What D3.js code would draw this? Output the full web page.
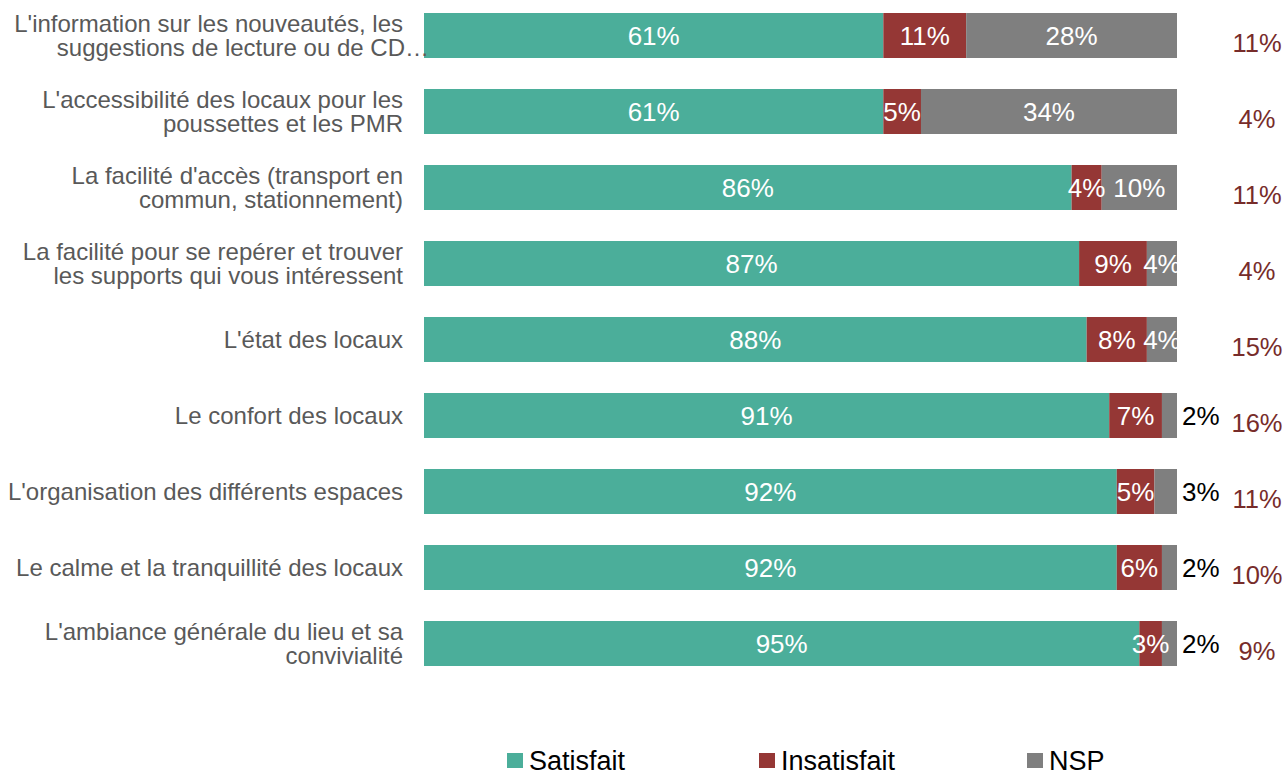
<!DOCTYPE html>
<html>
<head>
<meta charset="utf-8">
<script src="https://cdn.jsdelivr.net/npm/d3@7"></script>
<style>
  body { margin: 0; background: #fff; }
  svg { display: block; font-family: "Liberation Sans", Arial, sans-serif; }
</style>
</head>
<body>
<svg id="chart"></svg>
<script>
// labels, one entry per bar (top to bottom), split into lines
const categories = [
    ["L'information sur les nouveautés, les", "suggestions de lecture ou de CD…"],
    ["L'accessibilité des locaux pour les", "poussettes et les PMR"],
    ["La facilité d'accès (transport en", "commun, stationnement)"],
    ["La facilité pour se repérer et trouver", "les supports qui vous intéressent"],
    ["L'état des locaux"],
    ["Le confort des locaux"],
    ["L'organisation des différents espaces"],
    ["Le calme et la tranquillité des locaux"],
    ["L'ambiance générale du lieu et sa", "convivialité"]
];
const satisfait = [61, 61, 86, 87, 88, 91, 92, 92, 95];
const insatisfait = [11, 5, 4, 9, 8, 7, 5, 6, 3];
const nsp = [28, 34, 10, 4, 4, 2, 3, 2, 2];
const sideValues = [11, 4, 11, 4, 15, 16, 11, 10, 9];

const seriesNames = ["Satisfait", "Insatisfait", "NSP"];
const colors = ["#4bae9a", "#953735", "#7f7f7f"];

const W = 1285, H = 772;
const svg = d3.select("#chart").attr("width", W).attr("height", H);

const rows = categories.map((c, i) => ({
    idx: i,
    label: c,
    Satisfait: satisfait[i],
    Insatisfait: insatisfait[i],
    NSP: nsp[i],
    side: sideValues[i]
}));

const x = d3.scaleLinear().domain([0, 100]).range([424, 1177]);
const y = d3.scaleBand()
    .domain(rows.map(d => d.idx))
    .range([-2.5, 681.5])
    .paddingInner(0.408)
    .paddingOuter(0.204);

const stacked = d3.stack().keys(seriesNames)(rows);

const layers = svg.selectAll(".layer")
    .data(stacked)
    .join("g")
    .attr("class", "layer")
    .attr("fill", (d, i) => colors[i]);

layers.selectAll("rect")
    .data(d => d)
    .join("rect")
    .attr("x", d => x(d[0]))
    .attr("y", d => y(d.data.idx))
    .attr("width", d => x(d[1]) - x(d[0]))
    .attr("height", y.bandwidth());

// values in the bars (small NSP values go outside, in black)
stacked.forEach((layer, si) => {
    layer.forEach(d => {
        const v = d[1] - d[0];
        const outside = si === 2 && v < 4;
        svg.append("text")
            .attr("x", outside ? x(d[1]) + 5 : (x(d[0]) + x(d[1])) / 2)
            .attr("y", y(d.data.idx) + y.bandwidth() / 2)
            .attr("dy", "0.35em")
            .attr("text-anchor", outside ? "start" : "middle")
            .attr("fill", outside ? "#000" : "#fff")
            .style("font-size", "26px")
            .text(v + "%");
    });
});

// category labels on the left
const labelX = 403;
const labelSize = "24px";
rows.forEach(d => {
    const n = d.label.length;
    const lineH = 24;
    const cy = y(d.idx) + y.bandwidth() / 2;
    d.label.forEach((line, li) => {
        const t = svg.append("text")
            .attr("x", labelX)
            .attr("y", cy + (li - (n - 1) / 2) * lineH)
            .attr("dy", "0.35em")
            .attr("text-anchor", "end")
            .attr("fill", "#595959")
            .style("font-size", labelSize)
            .text(line);
        if (line.endsWith("…")) {
            // the ellipsis hangs past the label edge
            const probe = svg.append("text").style("font-size", labelSize).text("…");
            const w = probe.node().getComputedTextLength();
            probe.remove();
            t.attr("x", labelX + w + 2);
        }
    });
});

// extra column on the right
svg.selectAll(".side")
    .data(rows)
    .join("text")
    .attr("class", "side")
    .attr("x", 1257)
    .attr("y", d => y(d.idx) + y.bandwidth() / 2 + 8)
    .attr("dy", "0.35em")
    .attr("text-anchor", "middle")
    .attr("fill", "#772c2a")
    .style("font-size", "25.5px")
    .text(d => d.side + "%");

// legend
const legendX = [507, 759, 1027];
const legend = svg.selectAll(".legend")
    .data(seriesNames)
    .join("g")
    .attr("class", "legend")
    .attr("transform", (d, i) => `translate(${legendX[i]},753)`);

legend.append("rect")
    .attr("width", 16)
    .attr("height", 15)
    .attr("fill", (d, i) => colors[i]);

legend.append("text")
    .attr("x", 22)
    .attr("y", 17)
    .attr("fill", "#000")
    .style("font-size", "27px")
    .text(d => d);
</script>
</body>
</html>
